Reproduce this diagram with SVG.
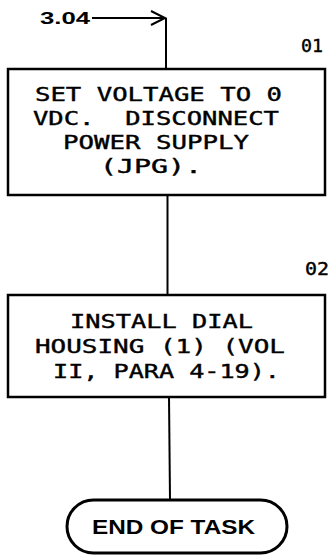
<svg xmlns="http://www.w3.org/2000/svg" width="334" height="557" viewBox="0 0 334 557">
<style>
.box{fill:#fff;stroke:#000;stroke-width:2.5}
.term{fill:#fff;stroke:#000;stroke-width:3}
.ln{fill:none;stroke:#000;stroke-width:2}
.t{font-family:"DejaVu Sans Mono","Liberation Mono",monospace;font-size:19px;fill:#000;stroke:#000;stroke-width:0.4;white-space:pre}
.n{font-family:"DejaVu Sans Mono","Liberation Mono",monospace;font-size:17px;fill:#000;stroke:#000;stroke-width:0.4}
.ref{font-family:"Liberation Sans",Arial,sans-serif;font-size:16px;font-weight:bold;fill:#000}
.end{font-family:"Liberation Sans",Arial,sans-serif;font-size:20px;font-weight:bold;fill:#000}
</style>
<rect width="334" height="557" fill="#fff"/>
<g id="connectors">
<line class="ln" x1="92" y1="18" x2="165" y2="18"/>
<polyline class="ln" points="151,11 165,18 151,25"/>
<line class="ln" x1="166" y1="18" x2="166" y2="69"/>
<line class="ln" x1="167.5" y1="195" x2="167.5" y2="295"/>
<line class="ln" x1="169" y1="397" x2="170" y2="500"/>
</g>
<g id="ref">
<text class="ref" x="40" y="24" textLength="50" lengthAdjust="spacingAndGlyphs">3.04</text>
</g>
<g id="step01">
<text class="n" x="301" y="52" textLength="22" lengthAdjust="spacingAndGlyphs">01</text>
<rect class="box" x="8" y="69" width="317" height="126"/>
<text class="t" x="35" y="101" textLength="247" lengthAdjust="spacingAndGlyphs">SET VOLTAGE TO 0</text>
<text class="t" x="33" y="125" textLength="246" lengthAdjust="spacingAndGlyphs">VDC.  DISCONNECT</text>
<text class="t" x="63" y="149" textLength="186" lengthAdjust="spacingAndGlyphs">POWER SUPPLY</text>
<text class="t" x="100" y="173" textLength="102" lengthAdjust="spacingAndGlyphs">(JPG).</text>
</g>
<g id="step02">
<text class="n" x="305" y="275" textLength="24" lengthAdjust="spacingAndGlyphs">02</text>
<rect class="box" x="8" y="295" width="317" height="102"/>
<text class="t" x="70" y="328" textLength="183" lengthAdjust="spacingAndGlyphs">INSTALL DIAL</text>
<text class="t" x="35" y="353" textLength="250" lengthAdjust="spacingAndGlyphs">HOUSING (1) (VOL</text>
<text class="t" x="53" y="378" textLength="227" lengthAdjust="spacingAndGlyphs">II, PARA 4-19).</text>
</g>
<g id="end">
<rect class="term" x="67" y="500" width="220" height="53" rx="26.5" ry="26.5"/>
<text class="end" x="92" y="534" textLength="163" lengthAdjust="spacingAndGlyphs">END OF TASK</text>
</g>
</svg>
